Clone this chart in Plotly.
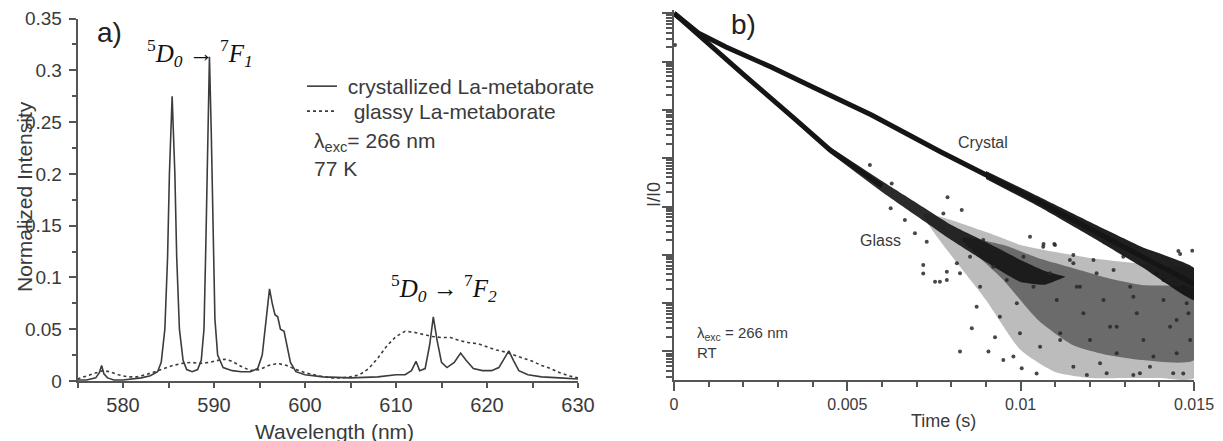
import plotly.graph_objects as go

# ---------------- panel a) emission spectra ----------------
wl_cryst = [575, 576, 577, 577.4, 577.65, 577.9, 578.3, 579, 580, 581, 582, 583, 583.8, 584.2, 584.6,
            584.9, 585.1, 585.4, 585.7, 585.9, 586.2, 586.6, 587.0, 587.6, 588.2, 588.6, 588.9, 589.1,
            589.3, 589.5, 589.7, 589.9, 590.1, 590.4, 591.0, 592.0, 593.0, 594.0, 594.8, 595.3, 595.7,
            596.1, 596.4, 596.7, 597.0, 597.3, 597.7, 598.0, 598.4, 599.0, 600, 602, 605, 608, 610, 611,
            611.7, 612.2, 612.6, 613.2, 613.7, 614.1, 614.5, 615.0, 615.6, 616.4, 617.1, 617.7, 618.5,
            619.5, 620.5, 621.3, 621.9, 622.4, 622.9, 623.5, 624.5, 626, 628, 630]
int_cryst = [0.001, 0.001, 0.003, 0.008, 0.015, 0.007, 0.003, 0.001, 0.001, 0.002, 0.003, 0.005, 0.009,
             0.018, 0.05, 0.12, 0.2, 0.275, 0.2, 0.12, 0.05, 0.02, 0.011, 0.009, 0.011, 0.02, 0.05, 0.13,
             0.24, 0.313, 0.24, 0.13, 0.06, 0.025, 0.013, 0.01, 0.009, 0.009, 0.012, 0.025, 0.06, 0.089,
             0.075, 0.064, 0.062, 0.05, 0.048, 0.035, 0.018, 0.009, 0.006, 0.004, 0.003, 0.004, 0.006,
             0.006, 0.01, 0.019, 0.01, 0.012, 0.035, 0.062, 0.04, 0.018, 0.013, 0.018, 0.027, 0.02, 0.012,
             0.01, 0.01, 0.013, 0.022, 0.029, 0.02, 0.01, 0.006, 0.004, 0.003, 0.002]

wl_glass = [575, 576, 577, 577.8, 578.5, 579.5, 580.5, 581.5, 582.5, 583.5, 584.5, 585.5, 586.5, 587.5,
            588.5, 589.5, 590.5, 591.2, 592, 593, 594, 595, 596, 597, 598, 599, 600, 601, 602, 603, 604,
            605, 606, 607, 608, 609, 610, 611, 612, 613, 614, 615, 616, 617, 618, 619, 620, 621, 622, 623,
            624, 625, 626, 627, 628, 629, 630]
int_glass = [0.002, 0.005, 0.008, 0.01, 0.009, 0.006, 0.004, 0.004, 0.006, 0.009, 0.012, 0.015, 0.017,
             0.018, 0.017, 0.018, 0.02, 0.021, 0.019, 0.014, 0.01, 0.011, 0.015, 0.017, 0.015, 0.011,
             0.008, 0.006, 0.004, 0.003, 0.003, 0.004, 0.006, 0.012, 0.022, 0.034, 0.043, 0.048, 0.047,
             0.045, 0.043, 0.042, 0.042, 0.039, 0.037, 0.036, 0.033, 0.03, 0.028, 0.025, 0.022, 0.019,
             0.015, 0.012, 0.008, 0.005, 0.003]

# ---------------- panel b) decay curves ----------------
t_cryst = [0, 0.0003, 0.0007, 0.0015, 0.0028, 0.004, 0.0057, 0.0077, 0.0093, 0.0106, 0.012, 0.0135, 0.015]
i_cryst = [1.0, 0.66, 0.391, 0.200, 0.0773, 0.0298, 0.00784, 0.00134, 3.54e-4, 1.18e-4, 3.42e-5, 9.0e-6, 2.48e-6]

t_cryst_band = [0.009, 0.0106, 0.012, 0.0135, 0.015]
cryst_upper = [5.43e-4, 1.50e-4, 4.78e-5, 1.45e-5, 5.33e-6]
cryst_lower = [3.72e-4, 9.31e-5, 2.45e-5, 5.58e-6, 1.16e-6]

t_glass = [0, 0.0007, 0.002, 0.0035, 0.0045, 0.006]
i_glass = [1.0, 0.356, 0.0543, 0.00636, 0.00148, 2.66e-4]

t_glass_core = [0.0045, 0.006, 0.007, 0.008, 0.009, 0.010, 0.0107, 0.0113]
core_upper = [1.71e-3, 3.37e-4, 1.18e-4, 4.14e-5, 1.84e-5, 7.8e-6, 4.6e-6, 3.5e-6]
core_lower = [1.28e-3, 2.00e-4, 6.35e-5, 2.02e-5, 7.10e-6, 2.73e-6, 2.4e-6, 3.5e-6]

t_glass_mid = [0.0083, 0.0095, 0.0105, 0.0115, 0.0125, 0.0135, 0.015]
mid_upper = [2.2e-5, 1.60e-5, 8.59e-6, 5.33e-6, 3.31e-6, 2.37e-6, 1.87e-6]
mid_lower = [2.2e-5, 3.01e-6, 4.47e-7, 1.36e-7, 8.43e-8, 6.64e-8, 6.64e-8]

t_glass_outer = [0.0072, 0.009, 0.010, 0.011, 0.012, 0.013, 0.014, 0.015]
outer_upper = [7.0e-5, 2.96e-5, 1.60e-5, 1.14e-5, 8.59e-6, 7.10e-6, 5.86e-6, 4.84e-6]
outer_lower = [7.0e-5, 1.16e-6, 1.07e-7, 3.74e-8, 2.81e-8, 2.81e-8, 2.81e-8, 2.81e-8]

t_glass_pts = [0.00003, 0.00789, 0.0083, 0.01027, 0.01099, 0.01152, 0.0121, 0.0146, 0.01495, 0.00859,
               0.00825, 0.00907, 0.00926, 0.0095, 0.00979, 0.01003, 0.01046, 0.00873, 0.00787, 0.00816,
               0.00777, 0.00565, 0.00628, 0.00625, 0.00666, 0.00695, 0.00729, 0.00719, 0.00719, 0.00753,
               0.00767, 0.00787, 0.01066, 0.01097, 0.01455, 0.01191, 0.01325, 0.01469, 0.01229, 0.01383,
               0.01114, 0.01277, 0.0145, 0.01171, 0.01325, 0.01152, 0.01268, 0.01412, 0.01479,
               0.00854, 0.00892, 0.00921, 0.0096, 0.00989, 0.01008, 0.01037, 0.01065, 0.01085, 0.01104,
               0.01114, 0.01142, 0.01162, 0.01181, 0.012, 0.01219, 0.01239, 0.01258, 0.01277, 0.01296,
               0.01316, 0.01335, 0.01354, 0.01373, 0.01393, 0.01412, 0.01431, 0.0145, 0.01469, 0.01484,
               0.01489, 0.0144, 0.01344, 0.01248, 0.01152, 0.01056, 0.00998, 0.0094, 0.00883, 0.00825]
i_glass_pts = [0.221, 1.55e-4, 8.46e-5, 2.37e-5, 1.60e-5, 9.9e-6, 7.8e-6, 1.04e-5, 1.22e-5, 3.0e-7,
               9.9e-8, 9.9e-8, 1.96e-7, 6.6e-8, 7.8e-8, 4.5e-8, 3.5e-8, 8.4e-7, 3.0e-6, 6.7e-6,
               7.2e-5, 7.2e-4, 3.0e-4, 9.2e-5, 5.25e-5, 2.8e-5, 1.87e-5, 6.15e-6, 4.1e-6, 2.77e-6,
               2.77e-6, 4.47e-6, 1.67e-5, 1.67e-5, 1.2e-5, 3.25e-8, 3.25e-8, 3.5e-8, 5.7e-8, 7.8e-8,
               1.72e-7, 3.24e-7, 4.47e-7, 2.19e-6, 1.36e-6, 6.67e-6, 4.84e-6, 3.0e-6, 9.9e-7,
               9.14e-6, 2.02e-5, 5.67e-6, 3.01e-6, 9.9e-7, 9.14e-6, 2.19e-6, 1.47e-5, 4.14e-6, 1.16e-6,
               2.37e-7, 7.8e-6, 2.19e-6, 6.15e-7, 1.72e-7, 4.14e-6, 1.16e-6, 3.24e-7, 9.14e-8, 9.14e-6,
               2.19e-6, 6.15e-7, 1.72e-7, 4.82e-8, 4.14e-6, 1.16e-6, 3.24e-7, 9.14e-8, 2.19e-6, 6.15e-7,
               1.72e-7, 3.52e-8, 3.52e-8, 3.52e-8, 4.82e-8, 1.25e-7, 2.37e-7, 5.23e-7, 2.19e-6, 4.14e-6]

SANS = "Liberation Sans, Arial, sans-serif"
SERIF = "Liberation Serif, Times New Roman, serif"
AX = "#555555"
TXT = "#3a3a3a"

fig = go.Figure()

fig.add_trace(go.Scatter(x=wl_cryst, y=int_cryst, mode="lines", name=" crystallized La-metaborate",
                         line=dict(color="#3c3c3c", width=1.6), xaxis="x", yaxis="y", legend="legend"))
fig.add_trace(go.Scatter(x=wl_glass, y=int_glass, mode="lines", name="  glassy La-metaborate",
                         line=dict(color="#3c3c3c", width=1.6, dash="dot"), xaxis="x", yaxis="y",
                         legend="legend2"))


def band(t, up, lo):
    return list(t) + list(t)[::-1], list(up) + list(lo)[::-1]


def add_band(t, up, lo, color, smooth):
    bx, by = band(t, up, lo)
    fig.add_trace(go.Scatter(x=bx, y=by, fill="toself", mode="lines",
                             line=dict(width=0, shape="spline", smoothing=smooth),
                             fillcolor=color, showlegend=False, hoverinfo="skip",
                             xaxis="x2", yaxis="y2"))


add_band(t_glass_outer, outer_upper, outer_lower, "rgba(70,70,70,0.36)", 0.6)
add_band(t_glass_mid, mid_upper, mid_lower, "rgba(40,40,40,0.55)", 0.6)
add_band(t_glass_core, core_upper, core_lower, "rgba(20,20,20,0.90)", 0.4)
fig.add_trace(go.Scatter(x=t_glass, y=i_glass, mode="lines", line=dict(color="#151515", width=5),
                         showlegend=False, xaxis="x2", yaxis="y2"))
fig.add_trace(go.Scatter(x=t_glass_pts, y=i_glass_pts, mode="markers",
                         marker=dict(size=4, color="rgba(40,40,40,0.85)"), showlegend=False,
                         xaxis="x2", yaxis="y2"))
add_band(t_cryst_band, cryst_upper, cryst_lower, "rgba(20,20,20,0.95)", 0.4)
fig.add_trace(go.Scatter(x=t_cryst, y=i_cryst, mode="lines", line=dict(color="#151515", width=5),
                         showlegend=False, xaxis="x2", yaxis="y2"))

W, H = 1223, 441


def px(x):
    return x / W


def py(y):
    return 1 - y / H


axis_common = dict(showline=True, linecolor=AX, linewidth=1.5, ticks="outside", tickcolor=AX,
                   tickwidth=1.5, showgrid=False, zeroline=False, automargin=False)

legend_common = dict(xanchor="left", yanchor="top", bgcolor="rgba(0,0,0,0)",
                     font=dict(size=21, color=TXT, family=SANS), itemwidth=30, tracegroupgap=0)

fig.update_layout(
    width=W, height=H,
    margin=dict(l=0, r=0, t=0, b=0, pad=0, autoexpand=False),
    paper_bgcolor="white", plot_bgcolor="white",
    font=dict(family=SANS, color=TXT),
    xaxis=dict(domain=[px(77.5), px(578)], range=[575, 630], dtick=10, ticklen=5,
               tickfont=dict(size=20, color=TXT), anchor="y",
               minor=dict(dtick=5, ticks="outside", ticklen=5, tickcolor=AX, tickwidth=1.5),
               **axis_common),
    yaxis=dict(domain=[py(381), py(18.5)], range=[0, 0.35], dtick=0.05, ticklen=7,
               tickfont=dict(size=19, color=TXT), anchor="x", ticklabelstandoff=3,
               minor=dict(dtick=0.025, ticks="outside", ticklen=4, tickcolor=AX, tickwidth=1.5),
               **axis_common),
    xaxis2=dict(domain=[px(674), px(1194)], range=[0, 0.015], dtick=0.005, ticklen=9,
                tickfont=dict(size=16, color=TXT), anchor="y2",
                minor=dict(dtick=0.001, ticks="outside", ticklen=5, tickcolor=AX, tickwidth=1.5),
                **axis_common),
    yaxis2=dict(domain=[py(380), py(10)], type="log", range=[-7.592, 0.068], dtick=1, ticklen=10,
                showticklabels=False, anchor="x2",
                minor=dict(dtick="D1", ticks="outside", ticklen=6, tickcolor=AX, tickwidth=1.5),
                **axis_common),
    showlegend=True,
    legend=dict(x=px(302), y=py(66), **legend_common),
    legend2=dict(x=px(302), y=py(91), **legend_common),
)

ann = [
    dict(text="a)", x=px(109), y=py(32), font=dict(size=28, color="#222")),
    dict(text="b)", x=px(743), y=py(25), font=dict(size=28, color="#222")),
    dict(text="<sup>5</sup><i>D</i><sub><i>0</i></sub> \u2192 <sup>7</sup><i>F</i><sub><i>1</i></sub>",
         x=px(200), y=py(53), font=dict(size=25, family=SERIF, color="#111")),
    dict(text="<sup>5</sup><i>D</i><sub><i>0</i></sub> \u2192 <sup>7</sup><i>F</i><sub><i>2</i></sub>",
         x=px(444), y=py(288), font=dict(size=25, family=SERIF, color="#111")),
    dict(text="\u03bb<sub>exc</sub>= 266 nm", x=px(312), y=py(142), xanchor="left",
         font=dict(size=21, color=TXT)),
    dict(text="77 K", x=px(312), y=py(168), xanchor="left", font=dict(size=21, color=TXT)),
    dict(text="Normalized Intensity", x=px(24), y=py(197), textangle=-90,
         font=dict(size=21, color=TXT)),
    dict(text="Wavelength (nm)", x=px(334), y=py(431), font=dict(size=21, color=TXT)),
    dict(text="I/I0", x=px(654), y=py(194), textangle=-90, font=dict(size=18, color=TXT)),
    dict(text="Time (s)", x=px(943), y=py(421), font=dict(size=18, color=TXT)),
    dict(text="Crystal", x=px(983), y=py(142), font=dict(size=16, color=TXT)),
    dict(text="Glass", x=px(880), y=py(240), font=dict(size=16, color=TXT)),
    dict(text="\u03bb<sub>exc</sub> = 266 nm", x=px(695), y=py(333), xanchor="left",
         font=dict(size=15, color=TXT)),
    dict(text="RT", x=px(695), y=py(352), xanchor="left", font=dict(size=15, color=TXT)),
]
for a in ann:
    a.setdefault("xanchor", "center")
    a.update(xref="paper", yref="paper", showarrow=False, yanchor="middle")
    fig.add_annotation(**a)

fig.write_html("out.html", config={"displayModeBar": False},
               post_script="document.body.style.margin='0px';document.body.style.overflow='hidden';")
